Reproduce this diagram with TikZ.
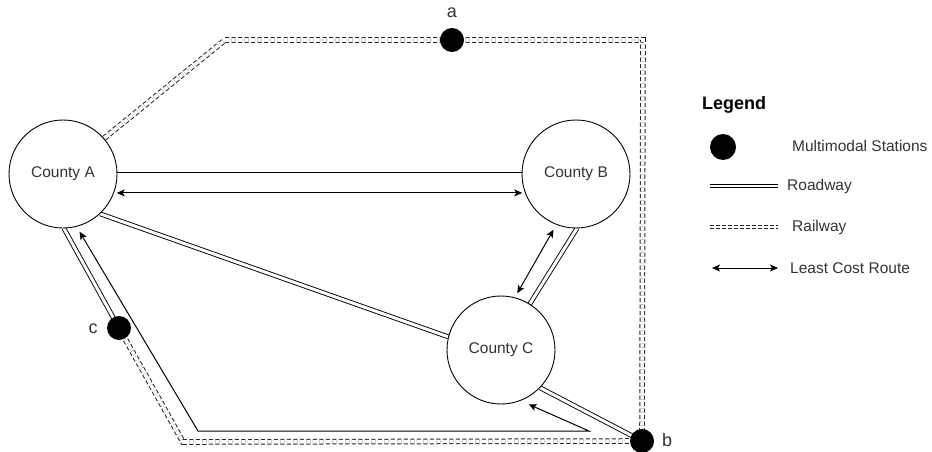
\documentclass[tikz,border=0pt]{standalone}
\usepackage{fontspec}
\setmainfont{Liberation Sans}
\usetikzlibrary{arrows.meta,backgrounds}
\begin{document}
\begin{tikzpicture}[x=1pt,y=1pt,
  county/.style={circle,draw=black,line width=0.9pt,minimum size=108pt,inner sep=0pt,font=\fontsize{15.5}{18}\selectfont,text=black!80},
  station/.style={circle,fill=black,minimum size=24pt,inner sep=0pt},
  lbl/.style={font=\fontsize{18}{21}\selectfont,text=black!80,inner sep=0pt},
  road/.style={draw=black,line width=0.9pt,double=white,double distance=3pt},
  rail/.style={draw=black!85,line width=1pt,double=white,double distance=3.6pt,dash pattern=on 4pt off 2.5pt},
  route/.style={draw=black,line width=1pt,{Stealth[length=8pt,width=7pt,inset=2pt]}-{Stealth[length=8pt,width=7pt,inset=2pt]}},
  legtext/.style={anchor=west,font=\fontsize{15.5}{18}\selectfont,text=black!80,inner sep=0pt}]
\useasboundingbox (0,0) rectangle (932,-452);

% counties
\node[county,fill=white] (A) at (63,-174) {County A};
\node[county,fill=white] (B) at (576,-174) {County B};
\node[county,fill=white] (C) at (501,-350) {County C};

% stations
\node[station] (sa) at (452,-40) {};
\node[station] (sb) at (642,-441) {};
\node[station] (sc) at (119,-328) {};
\node[lbl] (la) at (452,-13) {a};
\node[lbl] (lb) at (667,-440) {b};
\node[lbl] (lc) at (93,-329) {c};

% bends
\coordinate (r1) at (225,-40);
\coordinate (r2) at (643,-40);
\coordinate (r3) at (183,-442);
\coordinate (p1) at (589,-431);
\coordinate (p2) at (198,-431);

\begin{scope}[on background layer]
  % railway
  \draw[rail] (A.41) -- (r1) -- (sa.center) -- (r2) -- (sb.center) -- (r3) -- (sc.center);
  % roadways
  \draw[road] (A.east) -- (B.west);
  \draw[road] (A.-47) -- (C.166);
  \draw[road] (B.-89) -- (C.58);
  \draw[road] (C.-44) -- (sb.center);
  \draw[road] (A.-89) -- (sc.center);
  % least cost routes
  \draw[route] ([shift={(-19.4:57pt)}]A.center) -- ([shift={(199.4:57pt)}]B.center);
  \draw[route] ([shift={(-112:60pt)}]B.center) -- ([shift={(74:59pt)}]C.center);
  \draw[route] ([shift={(-63:61pt)}]C.center) -- (p1) -- (p2) -- ([shift={(-74:60pt)}]A.center);
\end{scope}

% legend
\node[anchor=west,font=\bfseries\fontsize{18}{21}\selectfont,inner sep=0pt] (legtitle) at (702,-105) {Legend};
\node[circle,fill=black,minimum size=26pt,inner sep=0pt] (legdot) at (723,-147) {};
\node[legtext] (legdott) at (792,-146) {Multimodal Stations};
\coordinate (lr1) at (710,-186);
\coordinate (lr2) at (778,-186);
\draw[road,double distance=2.4pt] (lr1) -- (lr2);
\node[legtext] (legroad) at (787,-186) {Roadway};
\coordinate (lw1) at (710,-227);
\coordinate (lw2) at (778,-227);
\draw[rail,double distance=2.6pt,dash pattern=on 3.5pt off 2.5pt] (lw1) -- (lw2);
\node[legtext] (legrail) at (792,-227) {Railway};
\coordinate (la1) at (712,-268);
\coordinate (la2) at (778,-268);
\draw[route] (la1) -- (la2);
\node[legtext] (legroute) at (790,-268) {Least Cost Route};
\end{tikzpicture}
\end{document}
